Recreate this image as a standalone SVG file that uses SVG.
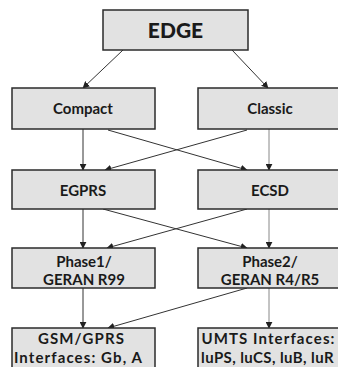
<svg xmlns="http://www.w3.org/2000/svg" width="338" height="367" viewBox="0 0 338 367">
<style>
.box{fill:#e2e2e2;stroke:#2b2b2b;stroke-width:1.5}
.t{font-family:Lato,"Open Sans","Liberation Sans",sans-serif;font-weight:700;font-size:15px;fill:#1a1a1a;text-anchor:middle}
.big{font-size:21px;font-weight:900}
.lg{letter-spacing:1.1px}
.md{letter-spacing:0.4px}
.c{stroke:#333;stroke-width:1;fill:none;marker-end:url(#ah)}
.g{stroke:#888}
</style>
<defs>
<marker id="ah" viewBox="0 0 10 10" refX="9" refY="5" markerWidth="7" markerHeight="7" orient="auto" markerUnits="userSpaceOnUse">
<path d="M0,0 L10,5 L0,10 z" fill="#222"/>
</marker>
</defs>
<rect width="338" height="367" fill="#fff"/>
<g id="connectors">
<line class="c" x1="123" y1="50" x2="83" y2="88"/>
<line class="c" x1="232" y1="50" x2="268" y2="88"/>
<line class="c" x1="83" y1="129" x2="83" y2="170"/>
<line class="c" x1="108" y1="130" x2="247" y2="170"/>
<line class="c" x1="247" y1="130" x2="105" y2="170"/>
<line class="c g" x1="269" y1="129" x2="269" y2="170"/>
<line class="c" x1="83" y1="209" x2="83" y2="248"/>
<line class="c" x1="103" y1="209" x2="247" y2="248"/>
<line class="c" x1="247" y1="209" x2="107" y2="248"/>
<line class="c g" x1="269" y1="209" x2="269" y2="248"/>
<line class="c" x1="83" y1="288" x2="83" y2="328"/>
<line class="c" x1="247" y1="288" x2="108" y2="328"/>
<line class="c g" x1="269" y1="288" x2="269" y2="328"/>
</g>
<g id="edge"><rect class="box" x="103" y="10" width="145" height="40"/><text class="t big" x="175.5" y="38">EDGE</text></g>
<g id="compact"><rect class="box" x="12" y="88" width="143" height="41"/><text class="t" x="83" y="114">Compact</text></g>
<g id="classic"><rect class="box" x="198" y="88" width="145" height="41"/><text class="t" x="270" y="114">Classic</text></g>
<g id="egprs"><rect class="box" x="12" y="170" width="143" height="39"/><text class="t" x="83" y="196">EGPRS</text></g>
<g id="ecsd"><rect class="box" x="198" y="170" width="145" height="39"/><text class="t" x="270" y="196">ECSD</text></g>
<g id="phase1"><rect class="box" x="12" y="248" width="143" height="40"/><text class="t" x="84" y="266.5">Phase1/</text><text class="t" x="84" y="285">GERAN R99</text></g>
<g id="phase2"><rect class="box" x="198" y="248" width="145" height="40"/><text class="t" x="270" y="266.5">Phase2/</text><text class="t" x="270" y="285">GERAN R4/R5</text></g>
<g id="gsm"><rect class="box" x="12" y="328" width="143" height="45"/><text class="t lg" x="81.5" y="344">GSM/GPRS</text><text class="t lg" x="78.5" y="362.5">Interfaces: Gb, A</text></g>
<g id="umts"><rect class="box" x="198" y="328" width="145" height="45"/><text class="t lg" x="268.5" y="344">UMTS Interfaces:</text><text class="t md" x="267.5" y="362.5">luPS, luCS, luB, luR</text></g>
</svg>
